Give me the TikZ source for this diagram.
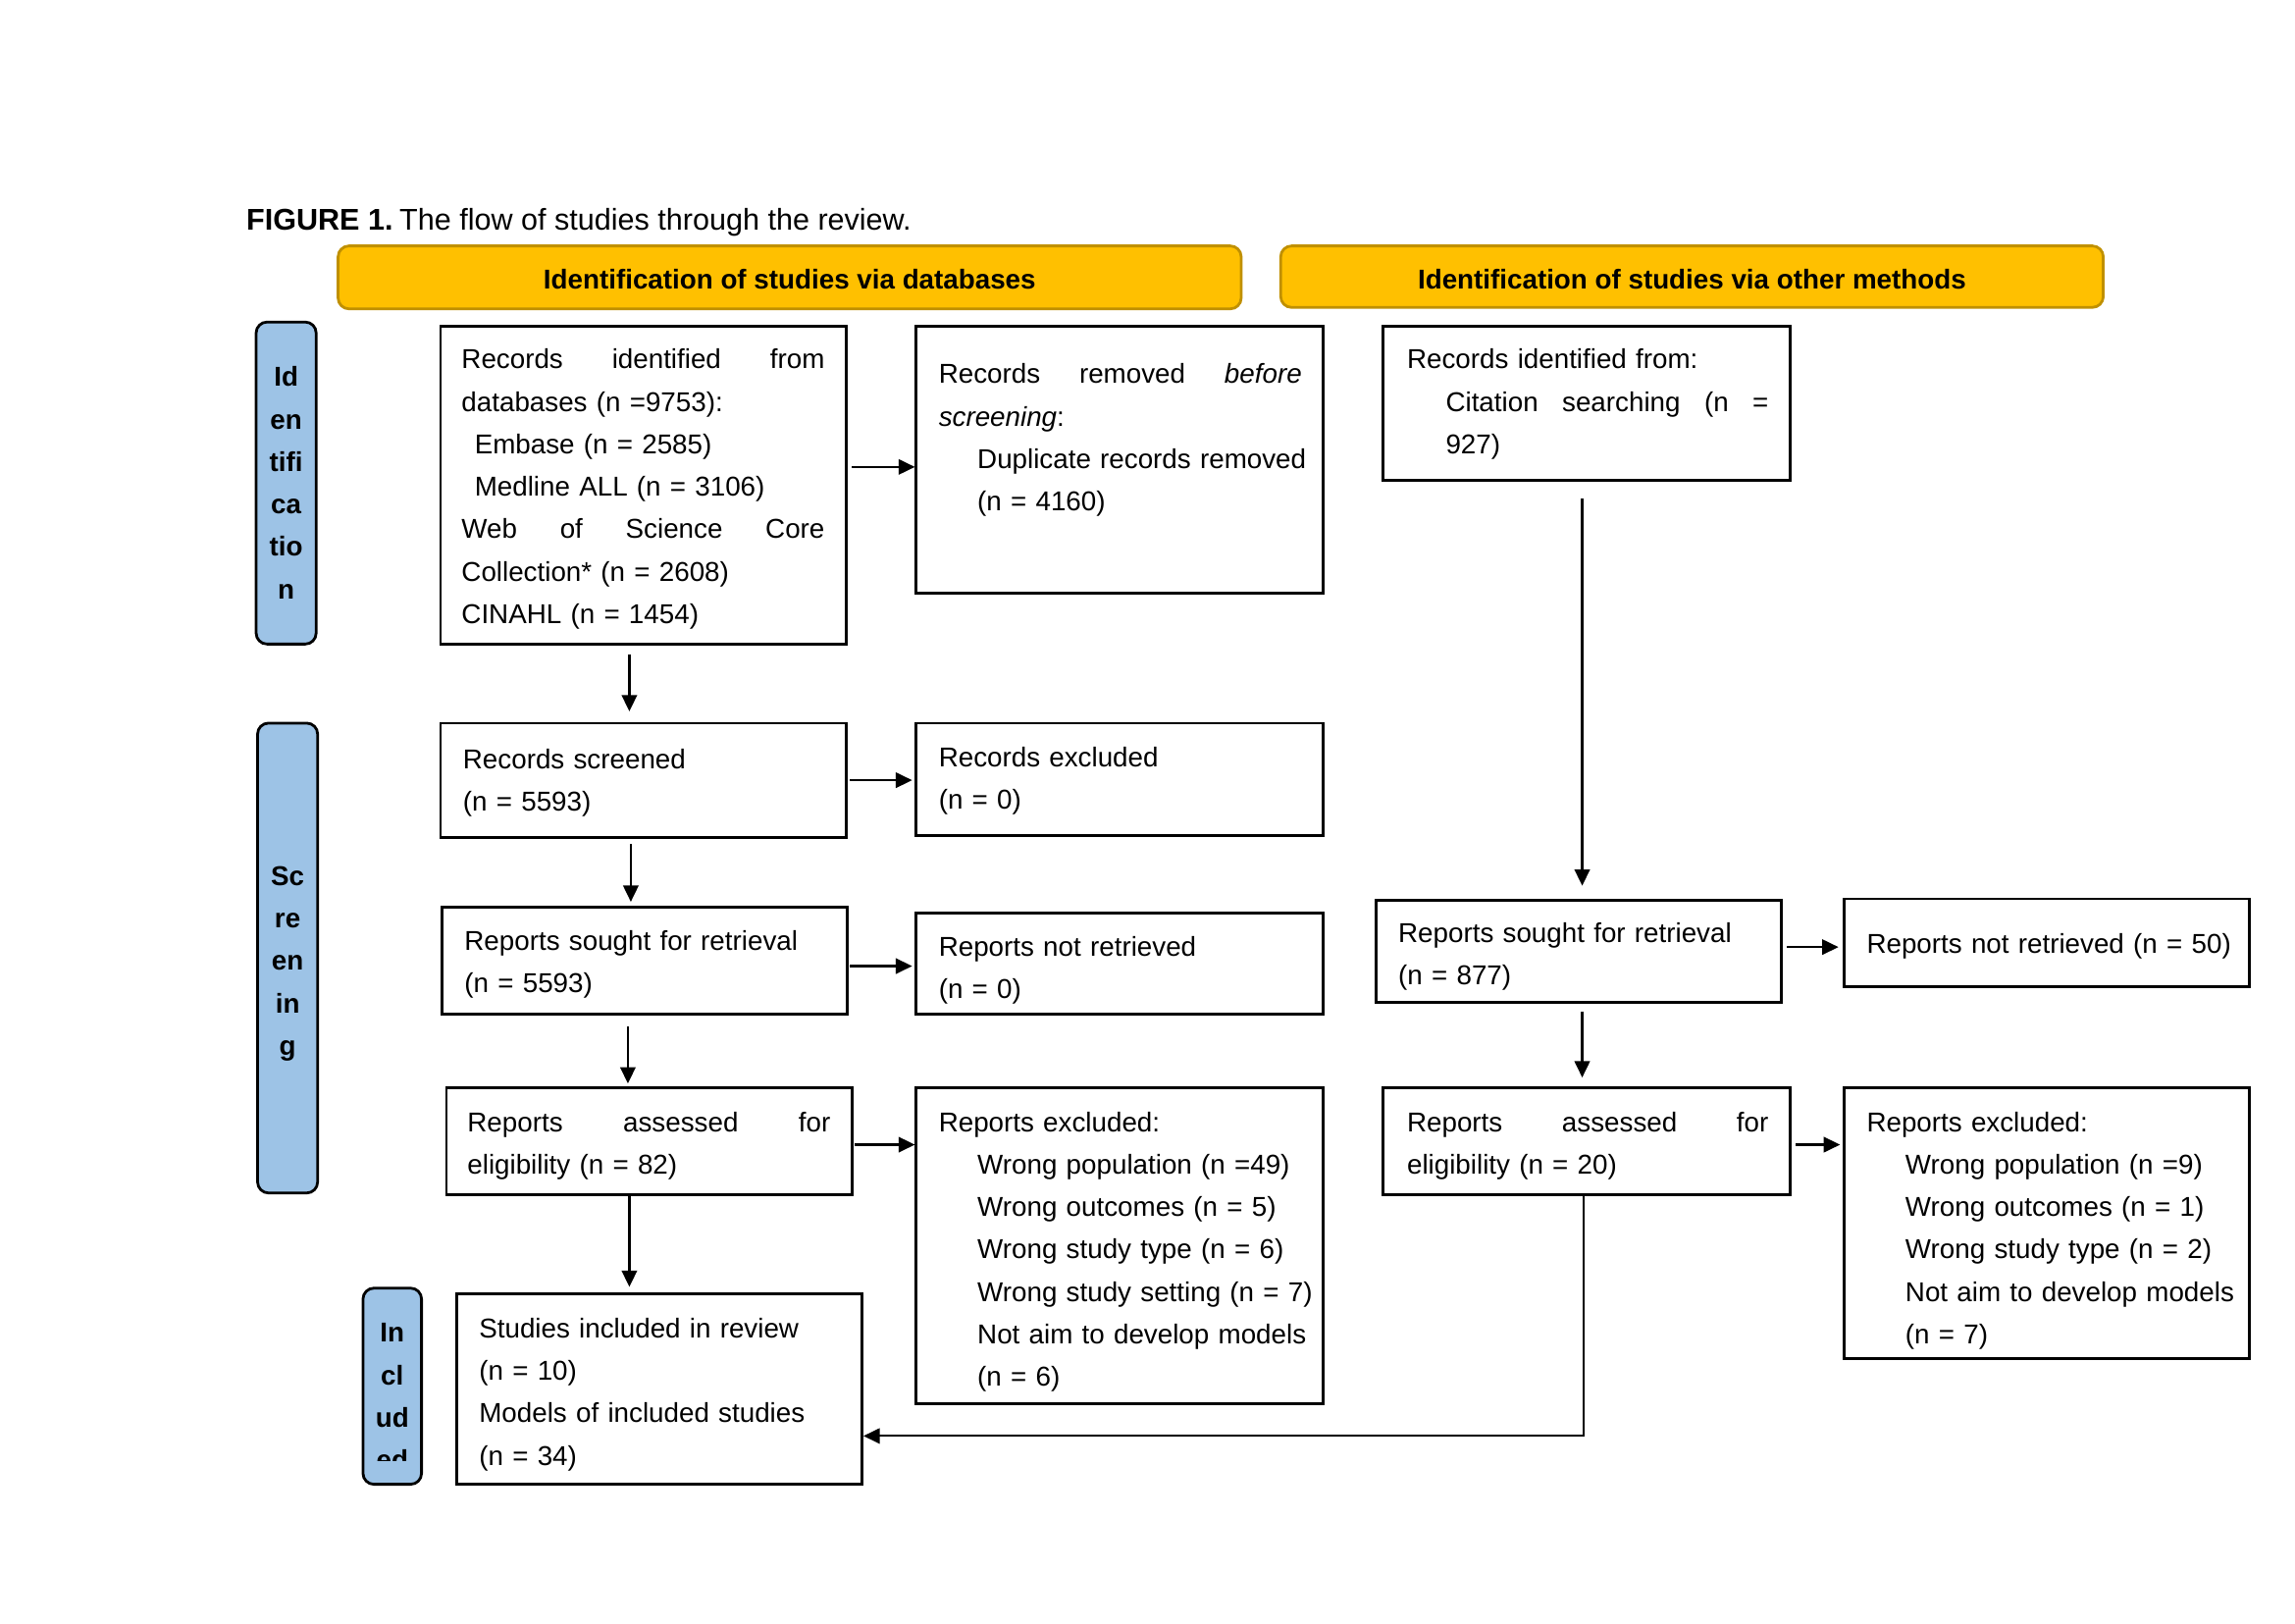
\documentclass[tikz,border=0pt]{standalone}
\usepackage{fontspec}
\setmainfont{Liberation Sans}
\newfontfamily\boxfam{Liberation Sans}[WordSpace=0.76]
\usetikzlibrary{arrows.meta,fit}
\definecolor{hdrfill}{HTML}{FFC000}
\definecolor{hdrline}{HTML}{C09000}
\definecolor{barfill}{HTML}{9DC3E6}
\newcommand\jline[2]{\leavevmode\hbox to #1{#2}}
\newcommand\boxfont{\boxfam\fontsize{10pt}{15.57pt}\selectfont\hyphenpenalty=10000\relax}
\begin{document}
\begin{tikzpicture}[x=0.53702pt,y=-0.53702pt,
  box/.style={draw=black, line width=1pt, inner sep=0pt},
  hdr/.style={draw=hdrline, fill=hdrfill, line width=1pt, rounded corners=4pt, inner sep=0pt},
  bar/.style={draw=black, fill=barfill, line width=1pt, rounded corners=4pt, inner sep=0pt},
  txt/.style={anchor=base west, inner sep=0pt, align=left, text width=150pt, font=\boxfont},
  hdrtxt/.style={inner sep=0pt, yshift=-0.8pt, font=\bfseries\fontsize{10pt}{12pt}\selectfont},
  bartxt/.style={anchor=base, inner sep=0pt, align=center, text width=20pt, font=\bfseries\fontsize{10pt}{15.57pt}\selectfont},
  arr/.style={line width=0.8pt, -{Triangle[length=6pt,width=5.6pt]}}
]
\useasboundingbox (0,0) rectangle (1568,1109);

% title
\node[anchor=base west, inner sep=0pt, font=\fontsize{11pt}{13pt}\selectfont] (title) at (168,157)
  {\textbf{FIGURE 1.}\hspace{2.4pt}The flow of studies through the review.};

% headers
\node[hdr, fit={(231,168) (848,211)}] (Y1) {};
\node[hdrtxt] (Y1t) at (Y1.center) {Identification of studies via databases};
\node[hdr, fit={(875,168) (1437,210)}] (Y2) {};
\node[hdrtxt] (Y2t) at (Y2.center) {Identification of studies via other methods};

% side bars
\node[bar, fit={(175,220) (216,440)}] (S1) {};
\node[bartxt] (S1t) at (195.5,264) {Id\\en\\tifi\\ca\\tio\\n};
\node[bar, fit={(176,494) (217,815)}] (S2) {};
\node[bartxt] (S2t) at (196.5,605) {Sc\\re\\en\\in\\g};
\node[bar, fit={(248,880) (288,1014)}] (S3) {};
\begin{scope}
  \clip (248,880) rectangle (288,998);
  \node[bartxt] (S3t) at (268,917) {In\\cl\\ud\\ed};
\end{scope}

% boxes
\node[box, fit={(301,223) (578,440)}] (A) {};
\node[txt] (At) at (315,252) {%
  \jline{133.2pt}{Records\hfill identified\hfill from}\\
  databases (n =9753):\\
  \hspace*{4.8pt}Embase (n = 2585)\\
  \hspace*{4.8pt}Medline ALL (n = 3106)\\
  \jline{133.2pt}{Web\hfill of\hfill Science\hfill Core}\\
  Collection* (n = 2608)\\
  CINAHL (n = 1454)};

\node[box, fit={(626,223) (904,405)}] (B) {};
\node[txt] (Bt) at (641,262) {%
  \jline{133.2pt}{Records\hfill removed\hfill \textit{before}}\\
  \textit{screening}:\\
  \hspace*{14.2pt}Duplicate records removed\\
  \hspace*{14.2pt}(n = 4160)};

\node[box, fit={(945,223) (1223,328)}] (C) {};
\node[txt] (Ct) at (961,252) {%
  Records identified from:\\
  \jline{132.6pt}{\hspace*{14.2pt}Citation\hfill searching\hfill (n\hfill =}\\
  \hspace*{14.2pt}927)};

\node[box, fit={(301,494) (578,572)}] (D) {};
\node[txt] (Dt) at (316,525) {Records screened\\(n = 5593)};

\node[box, fit={(626,494) (904,571)}] (E) {};
\node[txt] (Et) at (641,524) {Records excluded\\(n = 0)};

\node[box, fit={(302,620) (579,693)}] (F) {};
\node[txt] (Ft) at (317,649) {Reports sought for retrieval\\(n = 5593)};

\node[box, fit={(626,624) (904,693)}] (G) {};
\node[txt] (Gt) at (641,653) {Reports not retrieved\\(n = 0)};

\node[box, fit={(305,743) (582,816)}] (H) {};
\node[txt] (Ht) at (319,773) {%
  \jline{133.2pt}{Reports\hfill assessed\hfill for}\\
  eligibility (n = 82)};

\node[box, fit={(626,743) (904,959)}] (I) {};
\node[txt] (It) at (641,773) {%
  Reports excluded:\\
  \hspace*{14.2pt}Wrong population (n =49)\\
  \hspace*{14.2pt}Wrong outcomes (n = 5)\\
  \hspace*{14.2pt}Wrong study type (n = 6)\\
  \hspace*{14.2pt}Wrong study setting (n = 7)\\
  \hspace*{14.2pt}Not aim to develop models\\
  \hspace*{14.2pt}(n = 6)};

\node[box, fit={(312,884) (589,1014)}] (J) {};
\node[txt] (Jt) at (327,914) {%
  Studies included in review\\
  (n = 10)\\
  Models of included studies\\
  (n = 34)};

\node[box, fit={(940,615) (1217,685)}] (K) {};
\node[txt] (Kt) at (955,644) {Reports sought for retrieval\\(n = 877)};

\node[box, fit={(1260,614) (1537,674)}] (L) {};
\node[txt] (Lt) at (1275,651) {Reports not retrieved (n = 50)};

\node[box, fit={(945,743) (1223,816)}] (M) {};
\node[txt] (Mt) at (961,773) {%
  \jline{132.6pt}{Reports\hfill assessed\hfill for}\\
  eligibility (n = 20)};

\node[box, fit={(1260,743) (1537,928)}] (N) {};
\node[txt] (Nt) at (1275,773) {%
  Reports excluded:\\
  \hspace*{14.2pt}Wrong population (n =9)\\
  \hspace*{14.2pt}Wrong outcomes (n = 1)\\
  \hspace*{14.2pt}Wrong study type (n = 2)\\
  \hspace*{14.2pt}Not aim to develop models\\
  \hspace*{14.2pt}(n = 7)};

% helper coordinates
\coordinate (vA) at (430,0);
\coordinate (vB) at (431,0);
\coordinate (vC) at (429,0);
\coordinate (vD) at (430,0);
\coordinate (vE) at (1081,0);
\coordinate (vF) at (1082,981);
\coordinate (hA) at (0,319);
\coordinate (hB) at (0,533);
\coordinate (hC) at (0,660);
\coordinate (hD) at (0,782);
\coordinate (hE) at (0,647);

% connectors
\draw[arr, shorten <=1.6pt] (A.east |- hA) -- (B.west |- hA);
\draw[arr, shorten <=3.2pt, shorten >=3.8pt] (A.south -| vA) -- (D.north -| vA);
\draw[arr, shorten <=1pt, shorten >=1pt] (D.east |- hB) -- (E.west |- hB);
\draw[arr, shorten <=2.1pt, shorten >=1.6pt] (D.south -| vB) -- (F.north -| vB);
\draw[arr, shorten <=0.5pt, shorten >=1pt] (F.east |- hC) -- (G.west |- hC);
\draw[arr, shorten <=3.8pt, shorten >=1pt] (F.south -| vC) -- (H.north -| vC);
\draw[arr, shorten <=0.5pt] (H.east |- hD) -- (I.west |- hD);
\draw[arr, shorten >=2.1pt] (H.south -| vD) -- (J.north -| vD);
\draw[arr, shorten <=6.4pt, shorten >=4.8pt] (C.south -| vE) -- (K.north -| vE);
\draw[arr, shorten <=1.6pt, shorten >=1.6pt] (K.east |- hE) -- (L.west |- hE);
\draw[arr, shorten <=2.7pt, shorten >=3.2pt] (K.south -| vE) -- (M.north -| vE);
\draw[arr, shorten <=1.6pt, shorten >=1pt] (M.east |- hD) -- (N.west |- hD);
\draw[arr] (M.south -| vF) |- (J.east |- vF);
\end{tikzpicture}
\end{document}
